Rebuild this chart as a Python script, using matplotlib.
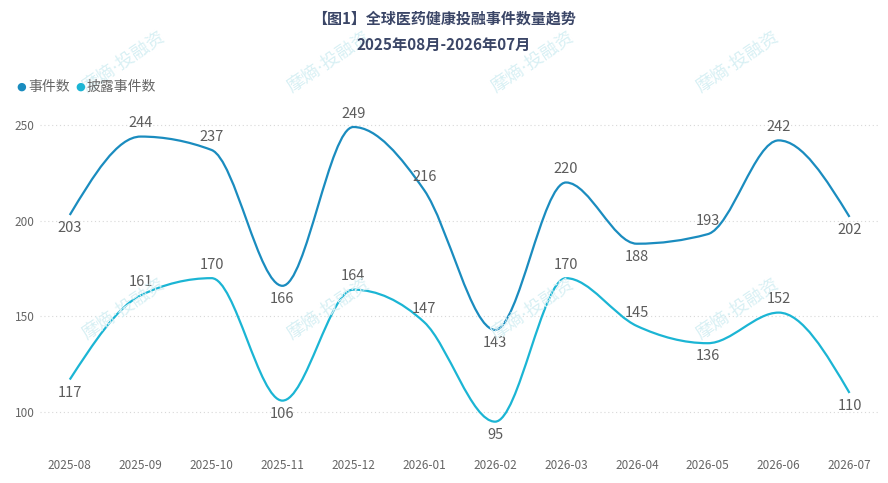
import matplotlib
matplotlib.use('Agg')
import matplotlib.pyplot as plt
from matplotlib.path import Path
from matplotlib.patches import PathPatch

plt.rcParams['font.family'] = ['Noto Sans CJK SC', 'DejaVu Sans']

months = ['2025-08', '2025-09', '2025-10', '2025-11', '2025-12', '2026-01',
          '2026-02', '2026-03', '2026-04', '2026-05', '2026-06', '2026-07']
events = [203, 244, 237, 166, 249, 216, 143, 220, 188, 193, 242, 202]
disclosed = [117, 161, 170, 106, 164, 147, 95, 170, 145, 136, 152, 110]
# label above (1) or below (-1) the point
events_pos = [-1, 1, 1, -1, 1, 1, -1, 1, -1, 1, 1, -1]
disclosed_pos = [-1, 1, 1, -1, 1, 1, -1, 1, 1, -1, 1, -1]
yticks = [100, 150, 200, 250]

c1 = '#1a8cbf'
c2 = '#1bb5d4'


def sign(v):
    return (v > 0) - (v < 0)


def monotone_path(xs, ys):
    # monotone cubic (like d3.curveMonotoneX), as bezier segments
    n = len(xs)
    s = [(ys[i + 1] - ys[i]) / (xs[i + 1] - xs[i]) for i in range(n - 1)]
    t = [0.0] * n
    for i in range(1, n - 1):
        h0 = xs[i] - xs[i - 1]
        h1 = xs[i + 1] - xs[i]
        p = (s[i - 1] * h1 + s[i] * h0) / (h0 + h1)
        t[i] = (sign(s[i - 1]) + sign(s[i])) * min(abs(s[i - 1]), abs(s[i]), 0.5 * abs(p))
    t[0] = (3 * s[0] - t[1]) / 2
    t[-1] = (3 * s[-1] - t[-2]) / 2
    verts = [(xs[0], ys[0])]
    codes = [Path.MOVETO]
    for i in range(n - 1):
        dx = (xs[i + 1] - xs[i]) / 3
        verts += [(xs[i] + dx, ys[i] + dx * t[i]),
                  (xs[i + 1] - dx, ys[i + 1] - dx * t[i + 1]),
                  (xs[i + 1], ys[i + 1])]
        codes += [Path.CURVE4] * 3
    return Path(verts, codes)


fig = plt.figure(figsize=(8.88, 4.83), dpi=100)
ax = fig.add_axes([40 / 888, 1 - 445 / 483, 840 / 888, 340 / 483])

xs = list(range(len(months)))
for vals, pos, col in [(events, events_pos, c1), (disclosed, disclosed_pos, c2)]:
    ax.add_patch(PathPatch(monotone_path(xs, vals), facecolor='none',
                           edgecolor=col, lw=1.6, zorder=3))
    for x, v, p in zip(xs, vals, pos):
        ax.annotate(str(v), (x, v), xytext=(0, 9.5 * p), textcoords='offset points',
                    ha='center', va='center', fontsize=10.5, color='#5c5c5c', zorder=4)

ax.set_xlim(-0.42, 11.43)
ax.set_ylim(82.8, 260.5)
ax.set_xticks(xs)
ax.set_xticklabels(months)
ax.set_yticks(yticks)
ax.tick_params(axis='both', length=0, labelsize=8.5, colors='#666666')
ax.tick_params(axis='x', pad=10)
ax.tick_params(axis='y', pad=4)
for s in ax.spines.values():
    s.set_visible(False)
ax.grid(axis='y', linestyle=(0, (1, 2.5)), color='#d8d8d8', lw=0.8)
ax.set_axisbelow(True)

# watermark
for row_y in [62, 309]:
    for col_x in [124, 329, 533, 738]:
        fig.text(col_x / 888, 1 - row_y / 483, '摩熵·投融资', rotation=34,
                 ha='center', va='center', fontsize=13, color='#d8f0f4',
                 family=['DejaVu Sans', 'Noto Sans CJK SC'], zorder=0)

fig.text(0.5, 1 - 19 / 483, '【图1】全球医药健康投融事件数量趋势', ha='center', va='center',
         fontsize=10.8, fontweight='bold', color='#3b4667')
fig.text(0.5, 1 - 45 / 483, '2025年08月-2026年07月', ha='center', va='center',
         fontsize=11, fontweight='bold', color='#3b4667')

# legend
fig.text(16 / 888, 1 - 87 / 483, '●', ha='left', va='center', fontsize=8, color=c1,
         family=['DejaVu Sans'])
fig.text(28 / 888, 1 - 87 / 483, '事件数', ha='left', va='center', fontsize=10, color='#666666')
fig.text(75 / 888, 1 - 87 / 483, '●', ha='left', va='center', fontsize=8, color=c2,
         family=['DejaVu Sans'])
fig.text(87 / 888, 1 - 87 / 483, '披露事件数', ha='left', va='center', fontsize=10, color='#666666')

fig.savefig('out.png', dpi=100)
